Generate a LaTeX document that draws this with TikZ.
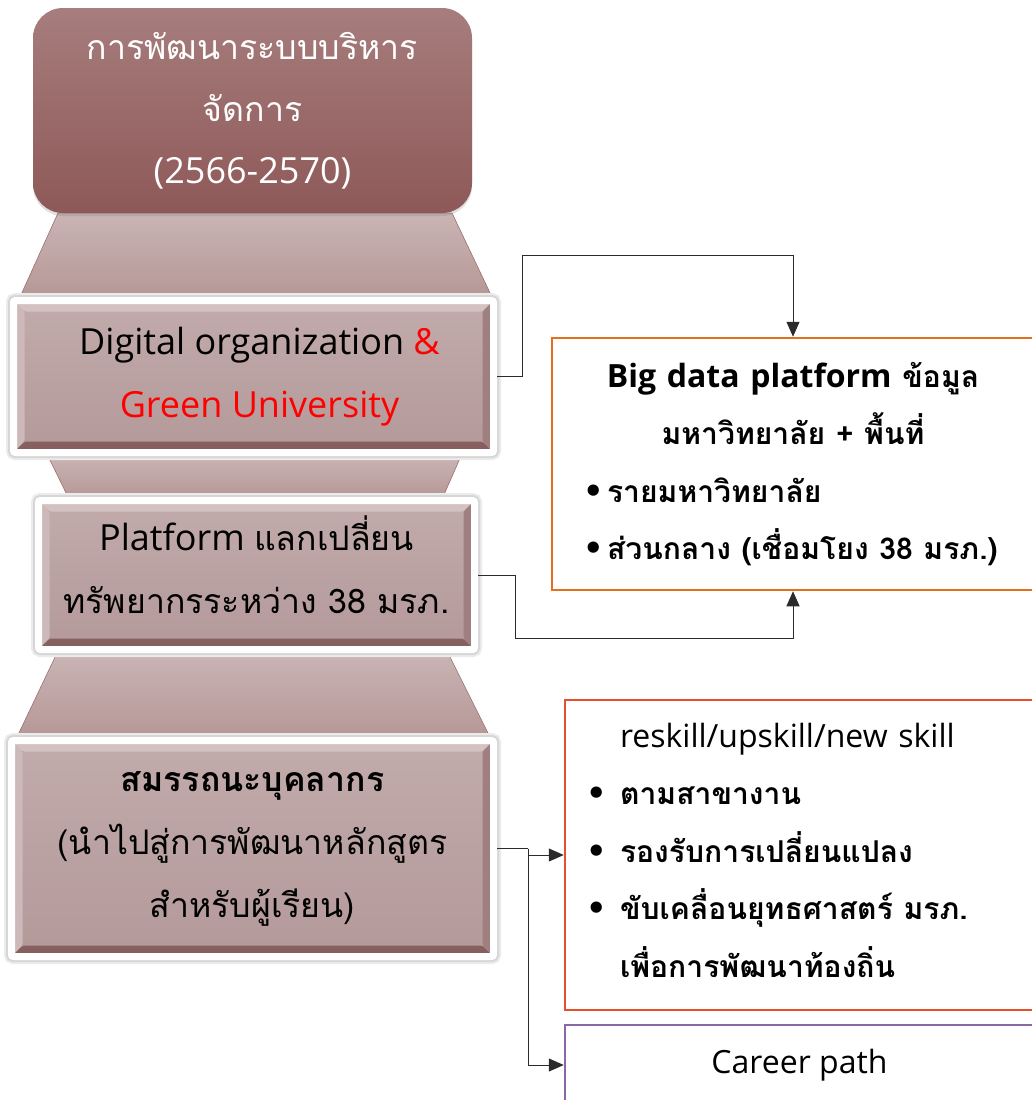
\documentclass[tikz,border=0pt]{standalone}
\usepackage{fontspec}
\setmainfont{Open Sans}
\newfontfamily\thaifont[Script=Thai,Scale=0.94]{Loma}
\newfontfamily\dotfont{DejaVu Sans}
\usetikzlibrary{positioning,arrows.meta,shadows,calc}

\definecolor{headtop}{HTML}{A77D7D}
\definecolor{headbot}{HTML}{8E5858}
\definecolor{funtop}{HTML}{CAB4B4}
\definecolor{funbot}{HTML}{B69797}
\definecolor{funline}{HTML}{9C6E6E}
\definecolor{tiertop}{HTML}{C2ABAB}
\definecolor{tierbot}{HTML}{B49999}
\definecolor{tierlight}{HTML}{D4C2C2}
\definecolor{tierdark}{HTML}{85605F}
\definecolor{bdorange}{HTML}{E4701E}
\definecolor{skillred}{HTML}{E8502C}
\definecolor{careerpurple}{HTML}{8A68A6}
\definecolor{linkgray}{HTML}{2B2B2B}

\newcommand{\tha}[1]{{\thaifont #1}}
\newcommand{\bitem}[2][30pt]{\par\noindent\makebox[#1][l]{\dotfont •}#2}

\begin{document}
\begin{tikzpicture}[x=1pt, y=-1pt,
  headbox/.style={rounded corners=30pt, top color=headtop, bottom color=headbot,
                  draw=none, text=white, align=center,
                  font=\fontsize{36}{62}\selectfont,
                  drop shadow={shadow xshift=0pt, shadow yshift=-3pt, opacity=.25}},
  funnel/.style={top color=funtop, bottom color=funbot, draw=funline, line width=.6pt},
  tier/.style={draw=white, line width=7pt, rounded corners=2pt,
               top color=tiertop, bottom color=tierbot, align=center,
               font=\fontsize{36}{63}\selectfont,
               preaction={draw=black!8, line width=15pt},
               preaction={draw=black!16, line width=11pt},
               path picture={
                 \coordinate (bvA) at (path picture bounding box.north west);
                 \coordinate (bvB) at (path picture bounding box.south east);
                 \fill[tierlight] (bvA) -- (bvA -| bvB) -- ([shift={(-11pt,-11pt)}]bvA -| bvB)
                   -- ([shift={(11pt,-11pt)}]bvA) -- cycle;
                 \fill[tierlight!60!tiertop] (bvA) -- ([shift={(11pt,-11pt)}]bvA)
                   -- ([shift={(11pt,11pt)}]bvA |- bvB) -- (bvA |- bvB) -- cycle;
                 \fill[tierdark] (bvA |- bvB) -- (bvB) -- ([shift={(-11pt,11pt)}]bvB)
                   -- ([shift={(11pt,11pt)}]bvA |- bvB) -- cycle;
                 \fill[tierdark!45!tierbot] (bvB) -- (bvA -| bvB)
                   -- ([shift={(-11pt,-11pt)}]bvA -| bvB) -- ([shift={(-11pt,11pt)}]bvB) -- cycle;
               }},
  infobox/.style={draw=#1, line width=2.5pt, fill=white, align=left,
                  font=\fontsize{32}{57.5}\selectfont},
  link/.style={draw=linkgray, line width=1pt, -{Triangle[width=13pt,length=15pt]}},
]
\useasboundingbox (0,0) rectangle (1031,1100);

% ---- funnel pieces between the tiers ----
\path[funnel] (58,213) -- (452,213) -- (492,297) -- (20,297) -- cycle;
\path[funnel] (48,456) -- (461,456) -- (443,497) -- (68,497) -- cycle;
\path[funnel] (57,653) -- (448,653) -- (490,737) -- (17,737) -- cycle;

% ---- head and the three tiers ----
\node[headbox, minimum width=439pt, minimum height=205pt] (head) at (252.5,110.5)
  {\tha{การพัฒนาระบบบริหาร}\\\tha{จัดการ}\\(2566-2570)};
\node[tier, minimum width=480pt, minimum height=152pt] (digital) at (253.5,376.5)
  {\hspace*{12pt}Digital organization \textcolor{red}{\&}\\\hspace*{12pt}\textcolor{red}{Green University}};
\node[tier, minimum width=436pt, minimum height=149pt] (platform) at (256.5,575)
  {Platform \tha{แลกเปลี่ยน}\\\tha{ทรัพยากรระหว่าง 38 มรภ.}\rule[-20pt]{0pt}{0pt}};
\node[tier, minimum width=482pt, minimum height=216pt] (competency) at (252.5,848.5)
  {\tha{\bfseries สมรรถนะบุคลากร}\\\tha{(นำไปสู่การพัฒนาหลักสูตร}\\\tha{สำหรับผู้เรียน)}};

% ---- right-hand boxes ----
\node[infobox=bdorange, minimum width=482pt, minimum height=252pt, text width=420pt]
  (bigdata) at (793,464) {\bfseries
  \centerline{Big data platform \tha{ข้อมูล}}
  \centerline{\tha{มหาวิทยาลัย + พื้นที่}}
  \bitem[24pt]{\tha{รายมหาวิทยาลัย}}
  \bitem[24pt]{\tha{ส่วนกลาง (เชื่อมโยง 38 มรภ.)}}};
\node[infobox=skillred, minimum width=469pt, minimum height=310pt, text width=427pt]
  (reskill) at (799.5,855) {%
  \noindent\hspace*{34pt}reskill/upskill/new skill\bfseries
  \bitem[34pt]{\tha{ตามสาขางาน}}
  \bitem[34pt]{\tha{รองรับการเปลี่ยนแปลง}}
  \bitem[34pt]{\tha{ขับเคลื่อนยุทธศาสตร์ มรภ.}}
  \par\noindent\hspace*{34pt}\tha{เพื่อการพัฒนาท้องถิ่น}\rule[-10pt]{0pt}{0pt}};
\node[infobox=careerpurple, minimum width=469pt, minimum height=80pt, align=center]
  (career) at (799.5,1065) {Career path};

% ---- connectors ----
\coordinate (up1) at (522,255);
\coordinate (dn2) at (515,638);
\coordinate (fork) at (528,848.5);
\draw[link] (digital.east) -| (up1) -| (bigdata.north);
\draw[link] (platform.east) -| (dn2) -| (bigdata.south);
\draw[draw=linkgray, line width=1pt] (competency.east) -- (fork);
\draw[link] (fork) |- (reskill.west);
\draw[link] (fork) |- (career.west);

\end{tikzpicture}
\end{document}
